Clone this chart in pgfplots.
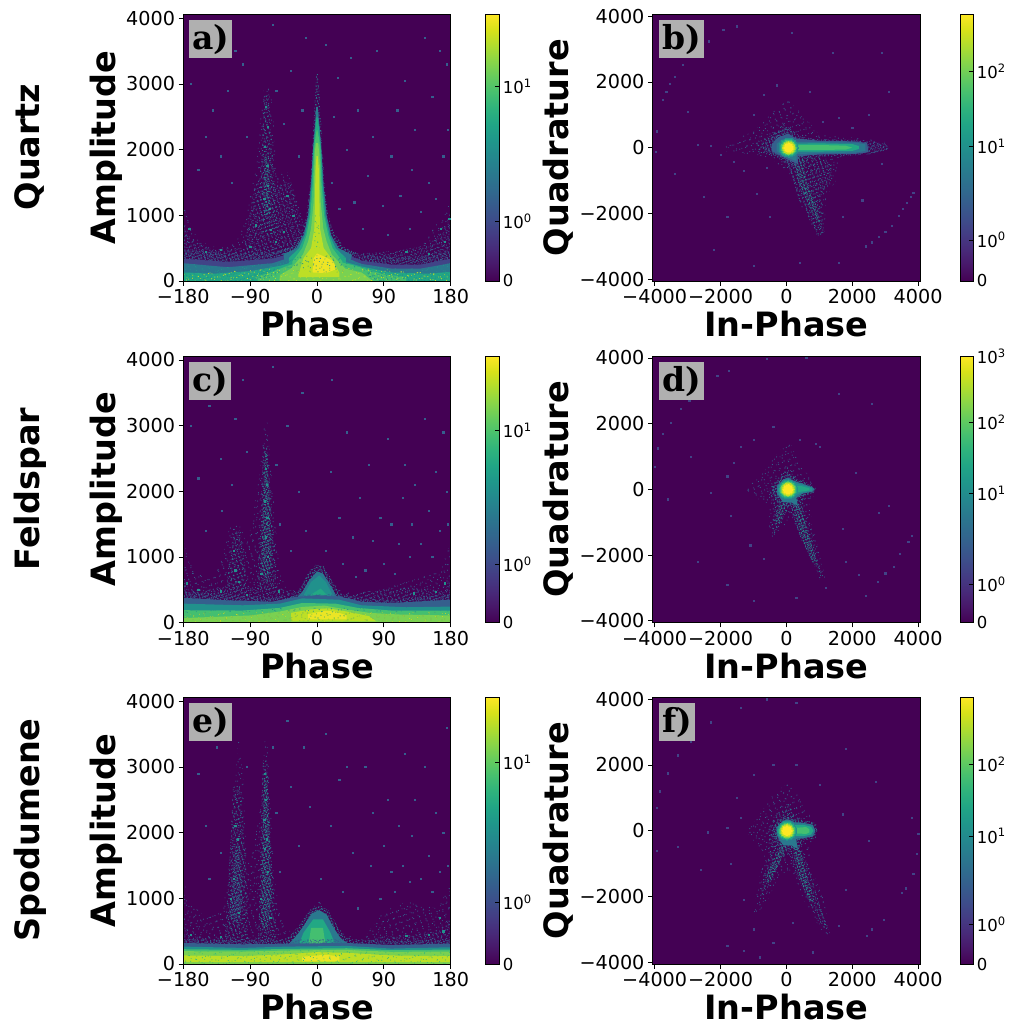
\documentclass[border=0pt]{standalone}
\usepackage{fontspec}
\setmainfont{DejaVu Sans}
\newfontfamily\panelfont{DejaVu Serif}
\usepackage{pgfplots}
\pgfplotsset{compat=1.18}
\usetikzlibrary{patterns.meta}
\definecolor{V0}{HTML}{440154}
\definecolor{V1}{HTML}{482475}
\definecolor{V2}{HTML}{414487}
\definecolor{V3}{HTML}{355F8D}
\definecolor{V4}{HTML}{2A788E}
\definecolor{V5}{HTML}{21918C}
\definecolor{V6}{HTML}{22A884}
\definecolor{V7}{HTML}{44BF70}
\definecolor{V8}{HTML}{7AD151}
\definecolor{V9}{HTML}{BDDF26}
\definecolor{VX}{HTML}{FDE725}
\definecolor{boxgray}{HTML}{B0B0B0}
\newcommand\poly[2]{\addplot[draw=none,forget plot,fill=#1] coordinates {#2} -- cycle;}
\newcommand\spk[4]{%
 \addplot[draw=none,forget plot,pattern={Dots[radius=.6pt,distance=#1,angle=17]},pattern color=#3] coordinates {#4} -- cycle;
 \addplot[draw=none,forget plot,pattern={Dots[radius=.6pt,distance=#2,angle=61]},pattern color=#3] coordinates {#4} -- cycle;}
\newcommand\spkk[4]{\spk{#1}{#2}{#3}{#4}%
 \addplot[draw=none,forget plot,pattern={Dots[radius=.5pt,distance=#1,angle=113,xshift=1.1pt]},pattern color=#3] coordinates {#4} -- cycle;}
\newcommand\spS[2]{\spkk{6.1pt}{7.3pt}{#1}{#2}}
\newcommand\spM[2]{\spkk{3.9pt}{4.7pt}{#1}{#2}}
\newcommand\spD[2]{\spkk{2.9pt}{3.4pt}{#1}{#2}}
\newcommand\pts[2]{\addplot[only marks,forget plot,mark=square*,mark size=.6pt,color=#1,mark options={draw=none,fill=#1}] coordinates {#2};}
\newcommand\blob[3]{\addplot[only marks,forget plot,color=#1,mark=*,mark size=#2,mark options={draw=#1,fill=#1,line width=0pt}] coordinates {#3};}
\newcommand\tfont{\fontsize{19.2}{19.2}\selectfont}
\newcommand\cfont{\fontsize{16.5}{16.5}\selectfont}
\newcommand\lfont{\fontsize{33.5}{33.5}\selectfont\bfseries}
\newcommand\te[1]{10\textsuperscript{#1}}
\pgfplotsset{
 base/.style={scale only axis,width=267.4pt,height=266.7pt,axis on top,
  axis background/.style={fill=V0},tick align=outside,major tick length=4.7pt,tick pos=left,
  tick style={black,line width=.8pt},axis line style={line width=.8pt},
  tick label style={font=\tfont},
  xlabel style={font=\lfont,at={(axis description cs:0.5,0)},anchor=base,yshift=-56pt},
  colormap/viridis,colorbar,point meta min=0,point meta max=1},
 lp/.style={base,xmin=-180,xmax=180,ymin=0,ymax=4060,xtick={-180,-90,0,90,180},
  xticklabels={−180,−90,0,90,180},ytick={0,1000,2000,3000,4000},yticklabels={0,1000,2000,3000,4000},
  xlabel={Phase},ylabel={Amplitude},
  ylabel style={font=\lfont,at={(axis description cs:0,0.5)},anchor=base,yshift=67.5pt}},
 rp/.style={base,xmin=-4060,xmax=4060,ymin=-4060,ymax=4060,xtick={-4000,-2000,0,2000,4000},
  xticklabels={−4000,−2000,0,2000,4000},ytick={-4000,-2000,0,2000,4000},yticklabels={−4000,−2000,0,2000,4000},
  xlabel={In-Phase},ylabel={Quadrature},
  ylabel style={font=\lfont,at={(axis description cs:0,0.5)},anchor=base,yshift=84pt}},
 cb/.style n args={3}{colorbar style={scale only axis,width=13.4pt,at={(parent axis.right of north east)},anchor=north west,xshift=#1,
  ytick={#2},yticklabels={#3},ytick pos=right,major tick length=4.7pt,
  yticklabel style={font=\cfont},tick style={black,line width=.8pt},axis line style={line width=.8pt}}}
}
\begin{document}
\begin{tikzpicture}[x=1pt,y=1pt]
\path[use as bounding box] (0,0) rectangle (1013,1026);
%----------------------------- a
\begin{axis}[lp,at={(183.3pt,745pt)},anchor=south west,cb={5pt}{0,0.2225,0.729}{0,\te{0},\te{1}}]
\spS{V3}{(-180,1150)(-172,900)(-160,620)(-140,520)(-110,560)(-97,900)(-90,1300)(-82,1700)(-76,2500)(-72,2950)(-66,3000)(-60,2700)(-56,1900)(-50,1650)(-40,1650)(-30,1350)(-20,950)(-12,700)(0,500)(30,480)(50,450)(75,420)(110,440)(140,520)(160,850)(172,1050)(180,1250)(180,0)(-180,0)}
\spM{V3}{(-95,700)(-83,1500)(-55,1450)(-35,1500)(-20,800)(-15,400)(-100,400)}
\spM{V4}{(-72,2800)(-65,2850)(-60,2000)(-55,1300)(-52,700)(-75,700)(-80,1200)(-74,2000)}
\spD{V5}{(-70,1900)(-65,1900)(-64,1300)(-63,1000)(-71,1000)(-72,1400)}
\spM{V3}{(-180,850)(-170,620)(-140,480)(-100,500)(-60,520)(-30,620)(-30,300)(-180,300)}
\spM{V3}{(180,1000)(170,750)(150,560)(110,460)(60,420)(60,280)(180,280)}
\spD{V3}{(-180,480)(-120,420)(-60,440)(-30,530)(30,540)(60,400)(100,360)(140,370)(180,480)(180,250)(-180,250)}
\poly{V2}{(-180,340)(-120,290)(-60,340)(-30,440)(30,450)(60,310)(100,250)(140,250)(180,340)(180,0)(-180,0)}
\poly{V4}{(-180,270)(-120,210)(-60,270)(-30,380)(30,390)(60,260)(100,190)(140,190)(180,270)(180,0)(-180,0)}
\spD{V4}{(-52,420)(-33,520)(-20,750)(-14,1000)(-9,1500)(-6.5,2000)(-4,2500)(-2,2900)(-1,3150)(1.5,3150)(3,2900)(5,2500)(7.5,2000)(10,1500)(15,1000)(22,750)(36,520)(55,420)(0,300)}
\poly{V4}{(-45,400)(-28,500)(-18,700)(-12,1000)(-8,1500)(-5.5,2000)(-2.5,2400)(-1,2650)(1,2650)(3,2400)(6,2000)(8.5,1500)(13,1000)(19,700)(29,500)(47,400)(40,0)(-40,0)}
\poly{V6}{(-180,130)(-140,110)(-90,150)(-50,230)(-20,330)(25,330)(60,220)(100,130)(150,110)(180,140)(180,0)(-180,0)}
\poly{V6}{(-38,350)(-24,500)(-16,700)(-10.5,1000)(-7,1500)(-5,2000)(-2,2350)(-.5,2500)(.5,2500)(2.5,2350)(5.5,2000)(7.5,1500)(11,1000)(17,700)(25,500)(39,350)(39,100)(-38,100)}
\poly{V7}{(-80,0)(-80,70)(-60,140)(-40,230)(-20,300)(20,320)(45,250)(70,170)(90,100)(120,60)(120,0)}
\poly{V7}{(-33,300)(-20,500)(-14,700)(-9,1000)(-5.5,1500)(-4,2000)(-2.5,2150)(-.5,2300)(.5,2300)(3,2150)(4.5,2000)(6,1500)(9.5,1000)(15,700)(21,500)(34,300)(34,100)(-33,100)}
\poly{V8}{(-50,0)(-50,90)(-35,190)(-19,400)(-12,600)(-8,800)(-4.5,1200)(-3.5,1700)(-3,1950)(-1.5,2100)(1.5,2100)(3,1950)(4,1700)(5,1200)(8.5,800)(13,600)(20,400)(38,190)(60,130)(75,0)}
\poly{V9}{(-25,100)(-18,350)(-8,500)(-3.5,800)(-2.5,1400)(-2,1700)(-.7,1900)(1,1900)(2.5,1700)(3,1400)(4,800)(9,500)(19,350)(30,130)(30,60)(-25,60)}
\poly{VX!75!V9}{(-6,130)(-5,340)(0,420)(8,380)(22,300)(26,180)(12,120)}
\spS{V5}{(-180,270)(-120,210)(-60,270)(-30,380)(30,390)(60,260)(100,190)(140,190)(180,270)(180,130)(-180,130)}
\spM{V5}{(-180,130)(-100,140)(-50,230)(-50,90)(-80,0)(-180,0)}
\spM{V5}{(180,130)(100,130)(60,220)(75,0)(180,0)}
\spS{V9}{(-180,100)(-50,200)(60,200)(180,100)(180,0)(-180,0)}
\spS{V7}{(-3.5,1000)(3.5,1000)(4,500)(-4,500)}
\pts{V3}{(-170,3000)(-150,2200)(-160,1700)(-140,2600)(-130,1900)(-115,1500)(-120,2900)(-110,3500)(-95,2200)(-100,3300)(-60,3900)(-55,2900)(-45,2400)(-35,3200)(-25,1900)(-20,2600)(-15,3700)(12,3600)(22,2500)(20,1500)(30,1100)(28,3100)(40,2000)(45,3400)(50,1200)(55,2600)(62,800)(68,1600)(75,2200)(80,3500)(88,1150)(95,700)(100,1900)(108,2600)(112,1300)(118,3050)(125,800)(128,1700)(132,2300)(140,1050)(145,3700)(150,1500)(155,2800)(160,1250)(165,3500)(170,1900)(176,2300)(175,3300)}
\pts{V5}{(-69,2650)(-66,2350)(-70,2050)(-67,1750)(-66,1450)(-71,1250)(-64,1100)(-62,780)(-82,850)(-90,520)(-56,600)(-45,750)(-32,1000)(-40,1300)(-150,450)(-172,800)(-130,480)(120,450)(150,420)(172,600)(166,800)(178,950)}
\end{axis}
%----------------------------- b
\begin{axis}[rp,at={(652.7pt,745pt)},anchor=south west,cb={5.6pt}{0,0.154,0.504,0.785}{0,\te{0},\te{1},\te{2}}]
\spS{V3}{(-1900,80)(-1000,500)(-500,1000)(0,1500)(400,1100)(1000,400)(3000,200)(3150,0)(3000,-150)(1600,-300)(1500,-1000)(1200,-1500)(1150,-2700)(950,-2700)(400,-1700)(100,-800)(-500,-300)(-1900,-100)}
\spM{V4}{(-900,150)(-500,350)(-100,700)(200,500)(300,200)(300,-200)(1000,-300)(1400,-500)(1350,-1000)(1050,-1450)(1150,-2650)(1000,-2700)(700,-2200)(300,-1400)(100,-800)(-150,-300)(-900,-130)}
\spD{V5}{(200,-300)(500,-300)(600,-1000)(900,-1700)(1050,-2300)(950,-2300)(650,-1700)(350,-1000)}
\spD{V3}{(-650,130)(-400,400)(50,650)(400,350)(900,260)(2300,230)(3000,110)(3120,0)(3000,-90)(2300,-220)(900,-280)(450,-350)(450,-700)(100,-550)(-300,-280)(-650,-110)}
\poly{V3}{(-450,100)(-250,320)(50,420)(300,280)(1000,210)(2100,190)(2450,140)(2500,-140)(2100,-190)(1000,-210)(350,-260)(350,-500)(150,-420)(-200,-240)(-450,-100)}
\poly{V4}{(-300,110)(-150,240)(60,300)(300,180)(1000,170)(2100,150)(2400,100)(2400,-100)(2100,-150)(1000,-170)(320,-200)(300,-400)(150,-350)(-150,-220)(-300,-100)}
\poly{V6}{(100,120)(1000,130)(2000,110)(2200,50)(2200,-40)(2000,-100)(1000,-120)(100,-120)}
\poly{V7}{(150,70)(1000,80)(1800,60)(2000,0)(1800,-60)(1000,-70)(150,-70)}
\blob{V5}{9.5pt}{(70,0)}
\blob{V6}{8.3pt}{(70,0)}
\blob{V7}{7.4pt}{(70,0)}
\blob{V8}{6.6pt}{(70,0)}
\blob{V9}{5.8pt}{(70,0)}
\blob{V9!50!VX}{5pt}{(70,0)}
\blob{VX}{4.2pt}{(70,0)}
\pts{V2}{(3850,-1370)(3780,-1500)(3660,-1680)(3520,-1860)(3400,-2060)(3200,-2370)(3000,-2560)(2800,-2700)(2600,-2880)(2400,-3000)(-3750,1450)(-3650,1700)(-3540,1950)(-3400,2160)(-3150,2520)(-2900,2780)(-2350,3240)(-1920,3580)(-1500,3700)(-3950,500)(-3980,-120)(-2300,50)(-2700,100)(-2000,-220)(-1600,-430)(-1300,-700)(-600,-600)(-1000,1000)(-700,1600)(-300,1900)(700,1700)(1100,800)(1600,900)(2000,600)(2500,1000)(2900,-500)(2300,-1600)(1700,-2100)(-500,-2100)(-900,-1400)(-1800,-2100)(-2500,-1500)(-3400,-800)(-2200,-3100)(-1000,-3600)(400,-3500)(1600,-3500)(-3000,1100)(3100,1700)(2900,2900)(1400,2900)(150,3500)}
\end{axis}
%----------------------------- c
\begin{axis}[lp,at={(183.3pt,403.3pt)},anchor=south west,cb={5pt}{0,0.219,0.72}{0,\te{0},\te{1}}]
\spS{V3}{(-180,1250)(-172,900)(-150,680)(-135,800)(-125,1100)(-118,1450)(-103,1500)(-95,1200)(-88,1500)(-76,2400)(-71,3000)(-67,3050)(-63,2500)(-57,1700)(-53,1100)(-50,800)(-40,480)(-25,500)(-10,820)(3,880)(12,800)(30,500)(60,400)(100,550)(130,650)(165,800)(180,1200)(180,0)(-180,0)}
\spM{V4}{(-73,2700)(-67,2700)(-61,1800)(-56,1000)(-54,500)(-81,500)(-79,1000)(-76,1500)}
\spD{V5}{(-70,2600)(-67,2600)(-63,1700)(-61,900)(-67,600)(-75,800)(-74,1500)}
\spM{V4}{(-112,1400)(-103,1400)(-97,900)(-95,450)(-122,450)(-120,800)}
\spM{V3}{(-180,720)(-172,480)(-120,540)(-60,540)(-30,480)(-30,200)(-180,200)}
\spM{V3}{(180,740)(172,480)(120,540)(60,470)(40,420)(40,200)(180,200)}
\spD{V4}{(-56,300)(-35,400)(-22,530)(-13,730)(-2,880)(9,860)(20,650)(30,460)(55,320)(20,200)(-20,200)}
\poly{V4}{(-44,280)(-30,350)(-19,480)(-11,640)(0,780)(8,750)(17,590)(26,410)(42,290)(20,200)(-20,200)}
\poly{V5}{(-25,280)(-18,420)(-8,620)(3,720)(12,620)(22,400)(30,280)}
\poly{V6}{(-18,260)(-8,430)(5,520)(15,400)(22,260)}
\spD{V3}{(-180,470)(-120,430)(-60,380)(-30,420)(30,440)(60,370)(100,350)(180,440)(180,300)(-180,300)}
\poly{V3}{(-180,380)(-120,340)(-60,320)(-30,390)(0,420)(30,400)(60,320)(100,300)(180,350)(180,0)(-180,0)}
\poly{V5}{(-180,290)(-100,265)(-50,290)(-20,370)(30,350)(60,265)(120,235)(180,245)(180,0)(-180,0)}
\poly{V7}{(-180,190)(-100,185)(-50,225)(-20,300)(25,290)(55,225)(100,185)(180,185)(180,0)(-180,0)}
\poly{V8}{(-180,70)(-90,110)(-50,170)(-20,240)(10,260)(30,220)(70,150)(110,125)(180,110)(180,0)(-180,0)}
\poly{V9}{(-35,20)(-35,150)(-10,200)(15,220)(40,170)(70,100)(80,20)}
\poly{VX!70!V9}{(-12,50)(-12,130)(10,180)(25,170)(40,110)(40,50)}
\spS{V5}{(-180,190)(-100,185)(-50,225)(50,225)(100,185)(180,185)(180,25)(-180,25)}
\spS{V9}{(-180,150)(-50,170)(70,170)(180,150)(180,0)(-180,0)}
\pts{V3}{(-170,3000)(-160,2200)(-150,1400)(-145,3300)(-130,2500)(-128,1700)(-115,2100)(-110,3100)(-95,2600)(-100,3700)(-60,3900)(-55,2400)(-50,1500)(-40,3000)(-35,1100)(-25,2000)(-20,3500)(-15,1400)(12,1100)(18,2300)(20,3700)(30,1600)(35,900)(40,2900)(48,1300)(52,700)(58,1900)(65,800)(70,2400)(75,1250)(85,1600)(90,900)(95,2800)(100,1500)(105,750)(110,1200)(115,1900)(118,2400)(125,1000)(128,1500)(132,2100)(140,1200)(145,3100)(150,1700)(155,1000)(160,2300)(165,1400)(170,2900)(176,1500)(175,2000)}
\pts{V5}{(-69,2350)(-68,2100)(-70,1850)(-67,1600)(-69,1300)(-66,1000)(-75,750)(-110,800)(-105,620)(-112,1100)(-175,600)(-160,500)(-130,480)(-95,430)(-52,480)(130,450)(160,470)(172,600)}
\end{axis}
%----------------------------- d
\begin{axis}[rp,at={(652.7pt,403.3pt)},anchor=south west,cb={5.6pt}{0,0.145,0.485,0.75,1}{0,\te{0},\te{1},\te{2},\te{3}}]
\spS{V3}{(-1200,50)(-700,500)(-350,1000)(100,1500)(400,800)(800,250)(900,-100)(700,-400)(800,-1100)(1200,-2750)(1000,-2750)(500,-1500)(100,-900)(-400,-1500)(-550,-1200)(-500,-500)(-1200,-100)}
\spM{V4}{(-500,50)(-200,400)(50,700)(300,300)(600,200)(880,0)(600,-200)(500,-600)(700,-1100)(1150,-2650)(1050,-2700)(650,-1950)(300,-1200)(100,-700)(-100,-750)(-350,-1350)(-450,-1100)(-350,-500)(-500,-100)}
\spD{V5}{(200,-500)(450,-500)(650,-1300)(950,-2300)(800,-2200)(450,-1500)}
\spD{V5}{(-250,-500)(0,-400)(-150,-1000)(-350,-1050)}
\spD{V4}{(-430,100)(-180,360)(50,500)(300,320)(550,250)(880,60)(880,-70)(550,-200)(350,-300)(420,-650)(150,-520)(-150,-520)(-430,-140)}
\poly{V4}{(-280,100)(-100,300)(50,350)(250,250)(500,170)(800,60)(850,0)(800,-70)(500,-130)(300,-250)(350,-500)(150,-400)(-100,-400)(-280,-130)}
\poly{V5}{(-180,100)(-60,220)(50,270)(200,200)(500,130)(780,40)(780,-40)(500,-90)(200,-200)(50,-270)(-60,-220)(-180,-100)}
\poly{V6}{(150,100)(450,100)(700,30)(700,-30)(450,-70)(150,-110)}
\blob{V5}{9.5pt}{(50,0)}
\blob{V6}{8.5pt}{(50,0)}
\blob{V7}{7.6pt}{(50,0)}
\blob{V8}{6.8pt}{(50,0)}
\blob{V9}{6pt}{(50,0)}
\blob{V9!50!VX}{5.2pt}{(50,0)}
\blob{VX}{4.4pt}{(50,0)}
\pts{V2}{(3800,-1400)(3700,-1600)(3450,-1950)(3250,-2350)(3000,-2550)(2780,-2800)(2400,-3250)(-4000,680)(-3900,1250)(-3750,1700)(-3520,2040)(-3200,2450)(-2950,2700)(-2100,3450)(-1750,3620)(-600,3980)(600,4000)(-2900,1000)(-2300,-100)(-1800,400)(-1600,800)(-1400,1300)(-1000,1500)(-400,1900)(400,1500)(900,1400)(1000,1300)(2100,500)(2800,-700)(1700,-1200)(1800,-2200)(-700,-2100)(-1100,-1700)(-1700,-800)(-2700,-2200)(-1800,-2900)(-1000,-3400)(300,-3300)(1200,-3000)(2200,-2600)(3100,-500)(2600,2600)(1600,2900)(-3600,-300)}
\end{axis}
%----------------------------- e
\begin{axis}[lp,at={(183.3pt,62pt)},anchor=south west,cb={5pt}{0,0.231,0.755}{0,\te{0},\te{1}}]
\spS{V3}{(-180,1300)(-172,950)(-150,700)(-128,800)(-120,1300)(-112,2400)(-106,3450)(-100,3000)(-95,1600)(-90,1500)(-75,2500)(-70,3500)(-66,3300)(-62,2300)(-57,1300)(-50,750)(-35,470)(-20,550)(-10,820)(3,950)(14,800)(30,500)(60,350)(90,800)(120,950)(160,850)(180,1200)(180,0)(-180,0)}
\spM{V4}{(-113,2700)(-103,2700)(-95,1500)(-92,350)(-125,350)(-120,1000)}
\spM{V4}{(-73,3100)(-67,3100)(-63,2000)(-57,900)(-53,350)(-79,350)(-77,1400)}
\spD{V5}{(-71,2900)(-67,2900)(-64,2000)(-61,1000)(-67,500)(-75,600)(-74,1500)}
\spD{V4}{(-110,1800)(-104,1800)(-100,1000)(-105,600)(-118,700)}
\spM{V3}{(-180,620)(-172,420)(-130,400)(-60,400)(-40,300)(-180,250)}
\spM{V3}{(180,720)(165,520)(130,440)(90,420)(60,340)(180,250)}
\spD{V4}{(-50,280)(-34,460)(-22,620)(-9,830)(3,900)(15,820)(27,590)(38,410)(56,280)}
\poly{V4}{(-40,280)(-27,440)(-18,580)(-7,770)(3,820)(13,750)(23,540)(32,390)(45,280)}
\poly{V6}{(-25,280)(-18,480)(-5,680)(8,680)(18,480)(25,280)}
\poly{V7}{(-12,260)(-8,550)(8,550)(12,260)}
\spD{V3}{(-180,380)(-100,360)(-40,370)(40,380)(100,350)(180,370)(180,300)(-180,300)}
\poly{V3}{(-180,320)(-100,300)(-40,310)(40,320)(100,290)(180,310)(180,0)(-180,0)}
\poly{V5}{(-180,265)(-100,245)(-40,265)(40,275)(100,235)(180,255)(180,0)(-180,0)}
\poly{V7}{(-180,225)(-100,215)(-40,230)(40,240)(100,210)(180,220)(180,0)(-180,0)}
\poly{V8}{(-180,195)(-100,190)(-40,205)(40,215)(100,185)(180,190)(180,0)(-180,0)}
\poly{V9}{(-180,130)(-100,120)(-40,150)(0,180)(40,170)(100,130)(180,120)(180,30)(-180,30)}
\poly{VX!70!V9}{(-20,40)(-20,110)(10,140)(30,120)(30,40)}
\spS{V7}{(-180,200)(180,200)(180,0)(-180,0)}
\pts{V3}{(-170,3700)(-160,2900)(-150,2100)(-145,1300)(-135,3300)(-130,1700)(-125,3800)(-95,3000)(-60,3300)(-55,2300)(-50,1400)(-40,3700)(-35,2700)(-25,1800)(-18,3300)(-10,2400)(5,1300)(12,3500)(18,2100)(30,2800)(35,1100)(40,3000)(48,1700)(55,850)(65,3000)(72,1500)(75,2300)(85,1000)(90,1800)(95,2500)(100,1400)(105,1100)(110,2100)(115,1500)(118,3200)(125,1250)(128,1950)(132,2500)(140,1300)(145,3000)(150,1650)(155,1100)(160,2300)(165,1400)(170,2000)(176,1500)(175,3600)}
\pts{V5}{(-70,2900)(-69,2500)(-71,2200)(-68,1900)(-70,1750)(-66,1400)(-110,2100)(-107,1900)(-112,1300)(-116,1000)(-105,780)(-76,1000)(-63,700)(-170,450)(-130,420)(170,500)(150,450)(120,430)(165,700)}
\end{axis}
%----------------------------- f
\begin{axis}[rp,at={(652.7pt,62pt)},anchor=south west,cb={5.6pt}{0,0.1475,0.48,0.7475}{0,\te{0},\te{1},\te{2}}]
\spS{V3}{(-1200,0)(-800,500)(-400,1100)(100,1500)(500,800)(800,300)(950,0)(750,-300)(700,-1000)(1100,-2000)(1350,-3150)(1150,-3150)(600,-2300)(200,-1300)(-200,-1300)(-600,-2200)(-1000,-2600)(-900,-1800)(-650,-700)(-1200,-60)}
\spM{V4}{(-550,50)(-300,500)(50,800)(350,400)(600,200)(900,0)(600,-200)(450,-500)(700,-1200)(1000,-2200)(1300,-3050)(1150,-3000)(700,-2200)(300,-1300)(100,-700)(-150,-800)(-450,-1500)(-800,-2100)(-700,-1400)(-500,-700)(-550,-100)}
\spD{V5}{(150,-400)(400,-500)(650,-1500)(850,-2200)(650,-2100)(400,-1400)}
\spD{V5}{(-200,-500)(50,-400)(-250,-1100)(-550,-1600)(-600,-1300)}
\spD{V4}{(-420,100)(-180,360)(50,480)(300,340)(600,300)(900,230)(950,0)(880,-230)(550,-290)(380,-320)(420,-700)(150,-560)(-180,-560)(-420,-140)}
\poly{V4}{(-300,100)(-100,300)(50,350)(250,250)(500,240)(800,180)(880,0)(800,-180)(500,-230)(300,-250)(330,-550)(150,-450)(-100,-450)(-300,-130)}
\poly{V6}{(-100,150)(40,240)(250,170)(500,180)(750,120)(820,0)(750,-120)(500,-170)(250,-170)(40,-240)(-100,-150)}
\poly{V7}{(200,80)(600,110)(700,40)(700,-50)(600,-100)(200,-80)}
\blob{V5}{9.5pt}{(20,0)}
\blob{V6}{8.5pt}{(20,0)}
\blob{V7}{7.6pt}{(20,0)}
\blob{V8}{6.8pt}{(20,0)}
\blob{V9}{6pt}{(20,0)}
\blob{V9!50!VX}{5.2pt}{(20,0)}
\blob{VX}{4.4pt}{(20,0)}
\pts{V2}{(3950,-700)(3850,-1300)(3620,-1750)(3500,-1900)(2950,-2700)(2600,-3000)(2450,-3200)(-3950,700)(-3850,1200)(-3600,1750)(-3300,2300)(-2900,2700)(-2300,3300)(-1400,3750)(-600,4000)(300,3900)(-3950,-600)(-1800,-3500)(-1300,-3650)(-800,-3850)(-1400,400)(-1800,100)(-2400,-50)(-1700,-1000)(-1500,1000)(-1000,1700)(-400,2000)(300,2000)(1000,1400)(1700,500)(2500,-300)(1800,-1800)(1600,-2900)(-1300,-2100)(-1000,-3000)(-400,-3400)(200,-2800)(800,-3700)(-2600,-1200)(-3300,-500)(2700,1500)(1800,2500)(3800,400)(4000,-100)}
\end{axis}
%----------------------------- panel letters
\tikzset{lab/.style={anchor=north west,fill=boxgray,minimum height=38pt,inner xsep=3pt,inner ysep=0pt,font=\panelfont\fontsize{33}{33}\selectfont\bfseries,text=black}}
\node[lab] at (189,1006) {a)};
\node[lab,minimum width=45pt] at (659,1006) {b)};
\node[lab] at (189,664) {c)};
\node[lab,minimum width=45pt] at (659,664) {d)};
\node[lab] at (189,323) {e)};
\node[lab,minimum width=36pt] at (659,323) {f)};
\node[rotate=90,font=\lfont] at (30,879) {Quartz};
\node[rotate=90,font=\lfont] at (30,537) {Feldspar};
\node[rotate=90,font=\lfont] at (30,196) {Spodumene};
\end{tikzpicture}
\end{document}
